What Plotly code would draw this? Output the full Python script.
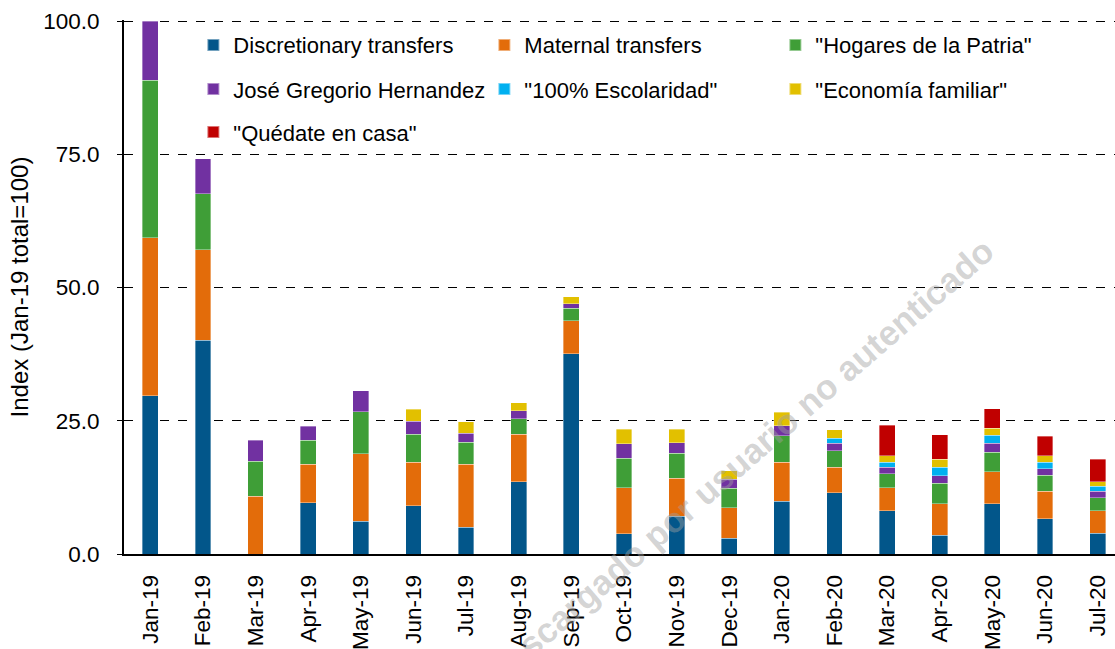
import plotly.graph_objects as go

months = ["Jan-19", "Feb-19", "Mar-19", "Apr-19", "May-19", "Jun-19", "Jul-19", "Aug-19",
          "Sep-19", "Oct-19", "Nov-19", "Dec-19", "Jan-20", "Feb-20", "Mar-20", "Apr-20",
          "May-20", "Jun-20", "Jul-20"]

discretionary = [29.7, 40.1, 0.0, 9.6, 6.1, 9.1, 5.0, 13.6, 37.6, 3.8, 7.1, 3.0, 9.9, 11.5, 8.1, 3.5, 9.4, 6.6, 3.9]
maternal = [29.6, 17.0, 10.8, 7.2, 12.7, 8.1, 11.8, 8.9, 6.2, 8.6, 7.1, 5.7, 7.3, 4.8, 4.3, 5.9, 6.0, 5.2, 4.2]
hogares = [29.6, 10.5, 6.6, 4.5, 7.9, 5.3, 4.2, 2.9, 2.3, 5.6, 4.7, 3.6, 5.0, 3.1, 2.7, 3.9, 3.7, 3.0, 2.5]
jose_gregorio = [11.1, 6.6, 3.9, 2.7, 3.9, 2.4, 1.7, 1.5, 0.9, 2.7, 2.0, 1.7, 1.9, 1.4, 1.2, 1.4, 1.7, 1.2, 1.2]
escolaridad = [None, None, None, None, None, None, None, None, None, None, None, None, None,
               0.9, 0.9, 1.6, 1.5, 1.2, 0.9]
economia = [None, None, None, None, None, 2.3, 2.1, 1.5, 1.3, 2.7, 2.5, 1.6, 2.5, 1.6, 1.2, 1.5, 1.3, 1.2, 0.9]
quedate = [None, None, None, None, None, None, None, None, None, None, None, None, None, None,
           5.8, 4.6, 3.7, 3.7, 4.2]

series = [
    ("Discretionary transfers", discretionary, "#02568A", "legend"),
    ("Maternal transfers", maternal, "#E36C0A", "legend"),
    ("\"Hogares de la Patria\"", hogares, "#3F9E37", "legend"),
    ("José Gregorio Hernandez", jose_gregorio, "#7131A1", "legend2"),
    ("\"100% Escolaridad\"", escolaridad, "#00B0F0", "legend2"),
    ("\"Economía familiar\"", economia, "#E2C000", "legend2"),
    ("\"Quédate en casa\"", quedate, "#C00000", "legend3"),
]

FONT = "Liberation Sans, Arial, sans-serif"

fig = go.Figure()
for name, vals, color, leg in series:
    fig.add_trace(go.Bar(
        x=months, y=vals, name=name, legend=leg,
        marker=dict(color=color, line=dict(color="rgba(255,255,255,0.45)", width=0.8)),
        width=0.30,
    ))

leg_common = dict(orientation="h", xanchor="left", x=0.070, yanchor="middle",
                  entrywidth=246, font=dict(family=FONT, size=22, color="#000000"),
                  bgcolor="rgba(0,0,0,0)", itemsizing="constant", traceorder="normal")

fig.update_layout(
    width=1115, height=649,
    margin=dict(l=124, r=0, t=20, b=95),
    barmode="stack",
    plot_bgcolor="white", paper_bgcolor="white",
    font=dict(family=FONT, size=22, color="#000000"),
    legend=dict(y=0.953, **leg_common),
    legend2=dict(y=0.8705, **leg_common),
    legend3=dict(y=0.790, **leg_common),
    xaxis=dict(
        range=[-0.5, 18.33], tickangle=-90, showline=True, linecolor="black", linewidth=2,
        ticks="", showgrid=False, ticklabelstandoff=10, automargin=False,
        tickfont=dict(family=FONT, size=22.5),
    ),
    yaxis=dict(
        range=[0, 100.2], tickvals=[0, 25, 50, 75, 100], tickformat=".1f",
        showline=True, linecolor="black", linewidth=2, ticks="outside", ticklen=5,
        tickcolor="black", showgrid=True, gridcolor="black", griddash="dash", gridwidth=1.3,
        zeroline=False, ticklabelstandoff=13, automargin=False,
        tickfont=dict(family=FONT, size=22.5),
        title=dict(text="Index (Jan-19 total=100)", font=dict(family=FONT, size=24), standoff=8),
    ),
    showlegend=True,
)

fig.add_annotation(
    text="<b>Descargado por usuario no autenticado</b>",
    xref="paper", yref="paper", x=0.62, y=0.172, xanchor="center", yanchor="middle",
    textangle=-41, showarrow=False,
    font=dict(family=FONT, size=35, color="rgba(160,160,160,0.45)"),
)

fig.write_html("out.html", config={"displayModeBar": False},
               post_script="document.body.style.margin='0';document.body.style.overflow='hidden';")
